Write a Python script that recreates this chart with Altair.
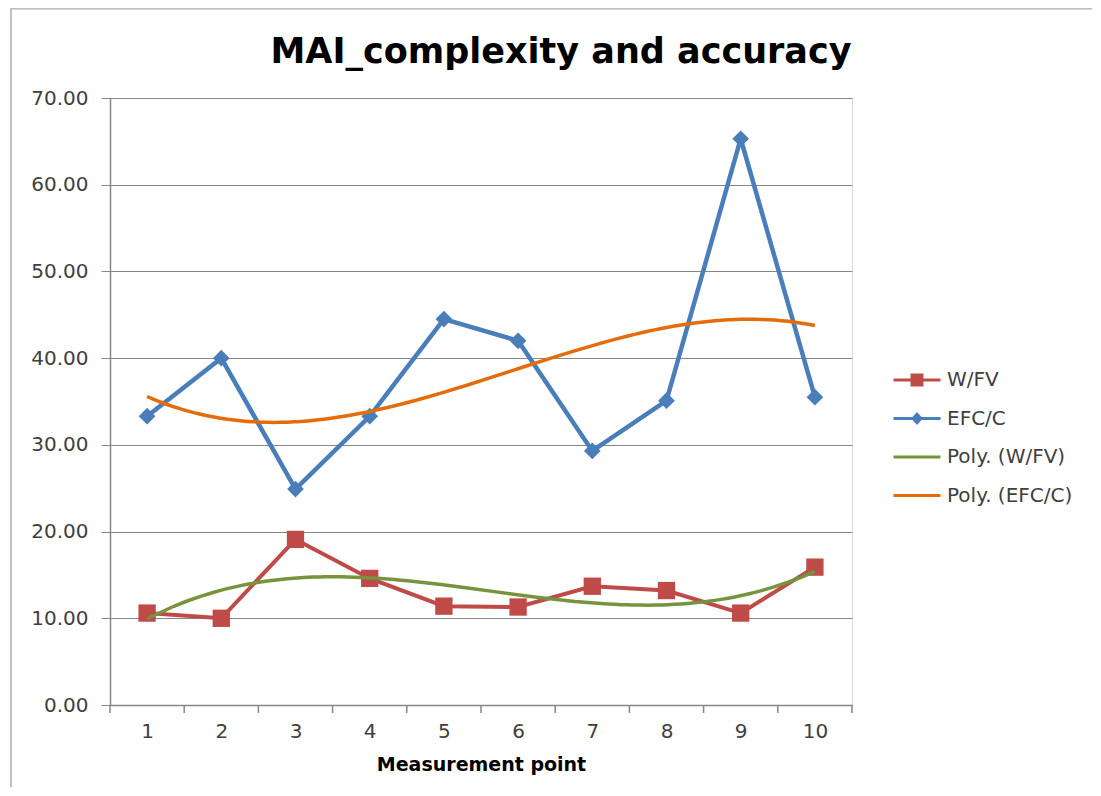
import altair as alt
import pandas as pd

# ---- data ----
points = [1, 2, 3, 4, 5, 6, 7, 8, 9, 10]
wfv = [10.6, 10.0, 19.1, 14.6, 11.4, 11.3, 13.7, 13.2, 10.6, 15.9]
efcc = [33.3, 40.0, 24.9, 33.3, 44.5, 42.0, 29.3, 35.1, 65.3, 35.5]
series_names = ["W/FV", "EFC/C", "Poly. (W/FV)", "Poly. (EFC/C)"]
series_colors = ["#BE4B48", "#4A7EBB", "#77933C", "#E46C0A"]
y_ticks = [0, 10, 20, 30, 40, 50, 60, 70]
x_bounds = [0.5, 1.5, 2.5, 3.5, 4.5, 5.5, 6.5, 7.5, 8.5, 9.5, 10.5]

df = pd.DataFrame({
    "point": points * 2,
    "value": wfv + efcc,
    "series": ["W/FV"] * len(points) + ["EFC/C"] * len(points),
})
bounds_df = pd.DataFrame({"b": x_bounds})
legend_df = pd.DataFrame({"series": series_names})

W, H = 742, 607
FONT = "DejaVu Sans"
GRID = "#868686"
LABEL = "#404040"

xscale = alt.Scale(domain=[0.5, 10.5], nice=False, zero=False)
yscale = alt.Scale(domain=[0, 70], nice=False, zero=True)

x_axis = alt.Axis(values=points, title="Measurement point", ticks=False, tickSize=0,
                  labelPadding=16, grid=False, domainColor=GRID, domainWidth=1.5,
                  labelFont=FONT, labelFontSize=20, labelColor=LABEL,
                  titleFont=FONT, titleFontSize=19, titleFontWeight="bold",
                  titleColor="black", titlePadding=14, labelFlush=False)
y_axis = alt.Axis(values=y_ticks, format=".2f", title=None, tickSize=9, tickColor=GRID,
                  labelPadding=13, grid=True, gridColor=GRID, gridWidth=1,
                  domainColor=GRID, domainWidth=1.5,
                  labelFont=FONT, labelFontSize=20, labelColor=LABEL)

X = alt.X("point:Q", scale=xscale, axis=x_axis)
Y = alt.Y("value:Q", scale=yscale, axis=y_axis)

base = alt.Chart(df)
red, blue, green, orange = series_colors

line_w = base.transform_filter(alt.datum.series == "W/FV").mark_line(
    color=red, strokeWidth=4).encode(x=X, y=Y)
line_e = base.transform_filter(alt.datum.series == "EFC/C").mark_line(
    color=blue, strokeWidth=4.5).encode(x=X, y=Y)
pts_w = base.transform_filter(alt.datum.series == "W/FV").mark_point(
    shape="square", filled=True, size=300, color=red, opacity=1).encode(x=X, y=Y)
pts_e = base.transform_filter(alt.datum.series == "EFC/C").mark_point(
    shape="diamond", filled=True, size=280, color=blue, opacity=1).encode(x=X, y=Y)

trend_w = base.transform_filter(alt.datum.series == "W/FV").transform_regression(
    "point", "value", method="poly", order=3, extent=[1, 10]
).mark_line(color=green, strokeWidth=3.5).encode(x=X, y=Y)
trend_e = base.transform_filter(alt.datum.series == "EFC/C").transform_regression(
    "point", "value", method="poly", order=3, extent=[1, 10]
).mark_line(color=orange, strokeWidth=3.5).encode(x=X, y=Y)

# category boundary tick marks on the x axis
ticks = alt.Chart(bounds_df).mark_rule(color=GRID, strokeWidth=1.5).encode(
    x=alt.X("b:Q", scale=xscale, axis=x_axis),
    y=alt.value(H), y2=alt.value(H + 8))

# legend (line + marker symbols)
line_p = "M-2,-0.13H2V0.13H-2Z"
legend_paths = [
    line_p + " M-0.55,-0.55H0.55V0.55H-0.55Z",
    line_p + " M0,-0.55L0.5,0L0,0.55L-0.5,0Z",
    line_p,
    line_p,
]
leg = alt.Legend(title=None, orient="none", legendX=795, legendY=270, padding=0,
                 symbolSize=552, symbolStrokeWidth=0, symbolOpacity=1,
                 labelFont=FONT, labelFontSize=20, labelColor=LABEL,
                 labelOffset=18, rowPadding=16.5)
legend_layer = alt.Chart(legend_df).mark_point(filled=True, opacity=0).encode(
    color=alt.Color("series:N", scale=alt.Scale(domain=series_names, range=series_colors), legend=leg),
    shape=alt.Shape("series:N", scale=alt.Scale(domain=series_names, range=legend_paths), legend=leg),
)

# chart frame (left and top border)
frame_top = alt.Chart(legend_df).mark_rule(color="#BFBFBF", strokeWidth=1.5).encode(
    x=alt.value(-99), x2=alt.value(W + 300), y=alt.value(-89.5))
frame_left = alt.Chart(legend_df).mark_rule(color="#BFBFBF", strokeWidth=1.5).encode(
    x=alt.value(-99), y=alt.value(-90), y2=alt.value(H + 90))

chart = alt.layer(
    frame_top, frame_left, ticks, line_w, pts_w, line_e, pts_e, trend_w, trend_e, legend_layer
).properties(
    width=W, height=H,
    autosize=alt.AutoSizeParams(type="none"),
    padding={"left": 102, "top": 90, "right": 240, "bottom": 82},
    title=alt.TitleParams("MAI_complexity and accuracy", font=FONT, fontSize=35,
                          fontWeight="bold", color="black", anchor="middle",
                          dx=80, offset=0, dy=63),
).configure_view(stroke=None).configure(background="white")

chart.save("out.html", embed_options={"renderer": "svg", "actions": False})
